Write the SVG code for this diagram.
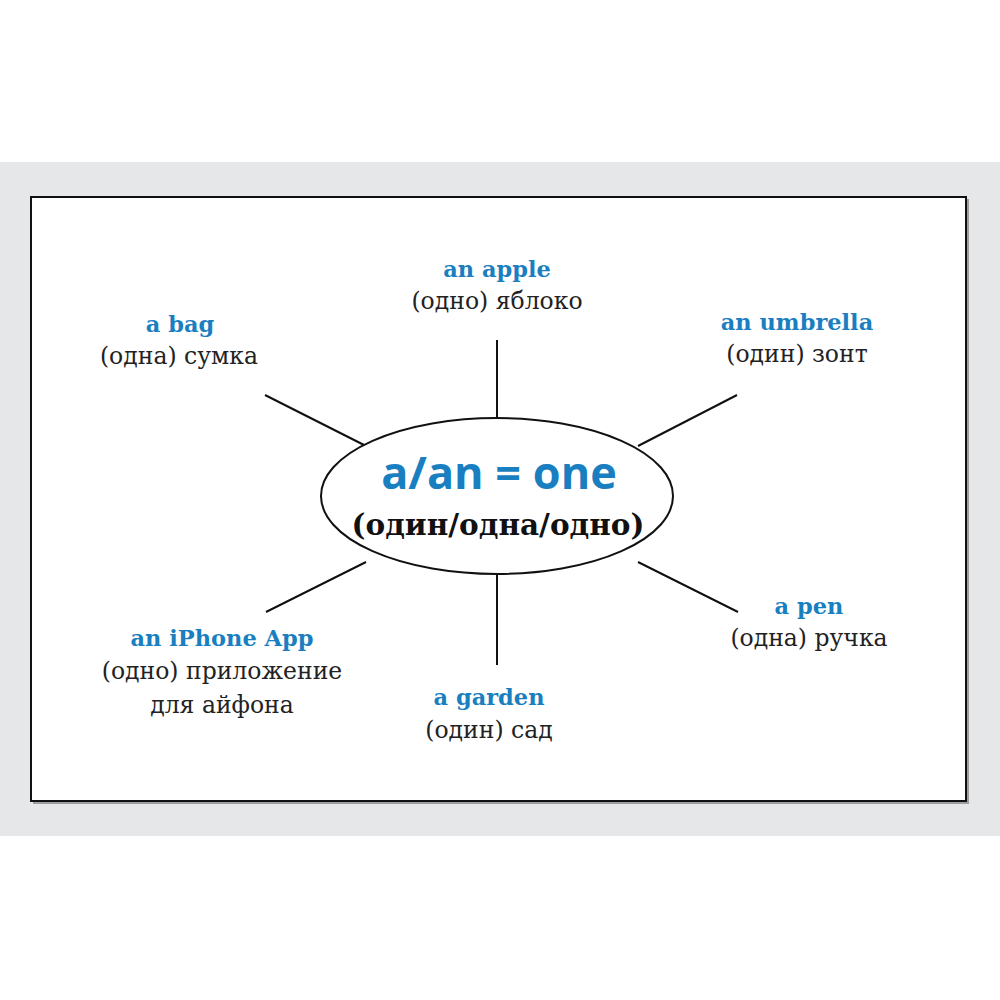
<svg xmlns="http://www.w3.org/2000/svg" width="1000" height="1000" viewBox="0 0 1000 1000">
<style>
.en{font-family:"DejaVu Serif","Liberation Serif",serif;font-weight:bold;font-size:22.5px;fill:#1a7fc1;text-anchor:middle}
.ru{font-family:"DejaVu Serif","Liberation Serif",serif;font-size:23.5px;fill:#222;text-anchor:middle}
.ln{stroke:#111;stroke-width:2;fill:none}
</style>
<rect x="0" y="0" width="1000" height="1000" fill="#fff"/>
<rect x="0" y="162" width="1000" height="674" fill="#e6e7e8"/>
<rect x="33" y="199" width="936" height="605" fill="#555" opacity="0.5"/>
<rect x="31" y="197" width="935" height="604" fill="#fff" stroke="#111" stroke-width="2"/>
<g id="connectors">
<line class="ln" x1="265" y1="395" x2="366" y2="446"/>
<line class="ln" x1="497" y1="340" x2="497" y2="419"/>
<line class="ln" x1="737" y1="395" x2="638" y2="446"/>
<line class="ln" x1="266" y1="612" x2="366" y2="562"/>
<line class="ln" x1="497" y1="573" x2="497" y2="665"/>
<line class="ln" x1="738" y1="612" x2="638" y2="562"/>
</g>
<g id="center">
<ellipse cx="497" cy="496" rx="176" ry="78" fill="#fff" stroke="#111" stroke-width="2"/>
<text x="499" y="489" style="font-family:'Open Sans','DejaVu Sans',sans-serif;font-weight:bold;font-size:45px;fill:#1a7fc1;text-anchor:middle">a/an = one</text>
<text x="498" y="535" style="font-family:'DejaVu Serif','Liberation Serif',serif;font-weight:bold;font-size:29.5px;fill:#111;text-anchor:middle">(один/одна/одно)</text>
</g>
<g id="bag"><text class="en" x="180" y="332">a bag</text><text class="ru" x="179" y="364">(одна) сумка</text></g>
<g id="apple"><text class="en" x="497" y="277">an apple</text><text class="ru" x="497" y="309">(одно) яблоко</text></g>
<g id="umbrella"><text class="en" x="797" y="330">an umbrella</text><text class="ru" x="797" y="362">(один) зонт</text></g>
<g id="iphone"><text class="en" x="222" y="646">an iPhone App</text><text class="ru" x="222" y="679">(одно) приложение</text><text class="ru" x="222" y="713">для айфона</text></g>
<g id="garden"><text class="en" x="489" y="705">a garden</text><text class="ru" x="489" y="738">(один) сад</text></g>
<g id="pen"><text class="en" x="809" y="614">a pen</text><text class="ru" x="809" y="646">(одна) ручка</text></g>
</svg>
